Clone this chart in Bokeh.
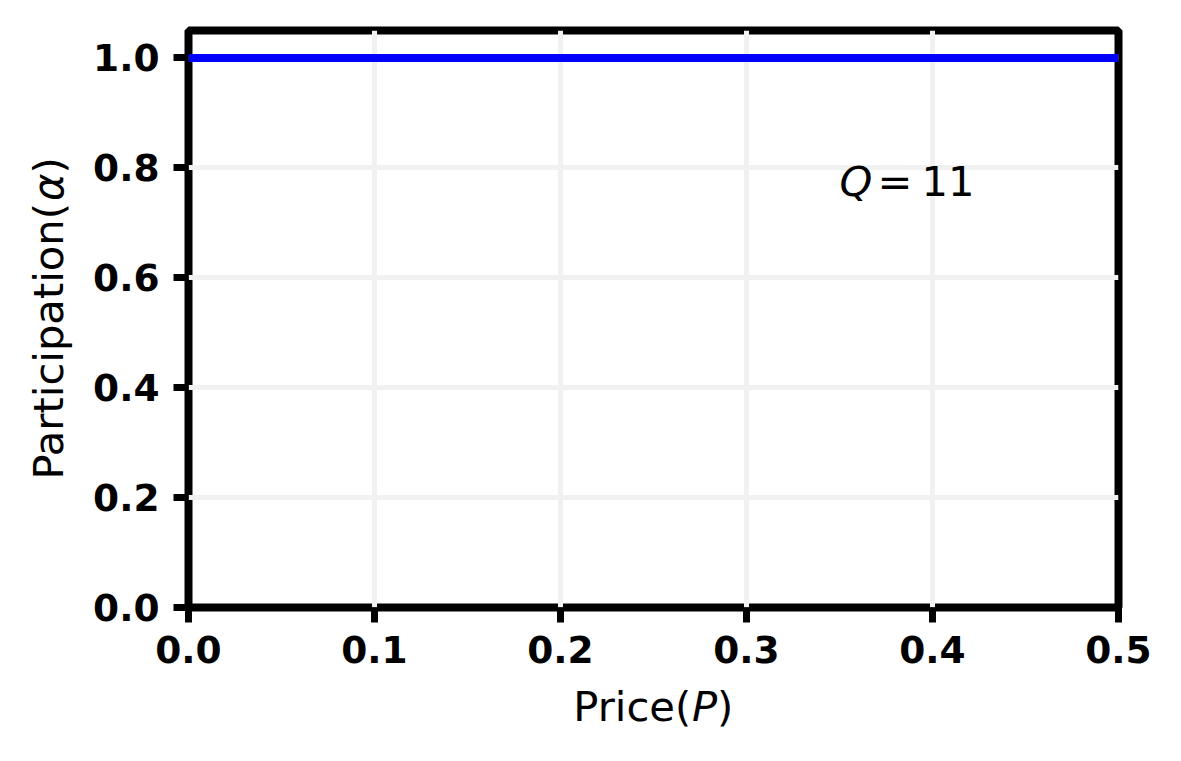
from bokeh.plotting import figure
from bokeh.models import Range1d, FixedTicker, PrintfTickFormatter, Label
from bokeh.layouts import column, row
from bokeh.embed import file_html
from bokeh.resources import INLINE
import math

# ---- data ----
price = [0.0, 0.1, 0.2, 0.3, 0.4, 0.5]
participation = [1.0, 1.0, 1.0, 1.0, 1.0, 1.0]
x_ticks = [0.0, 0.1, 0.2, 0.3, 0.4, 0.5]
y_ticks = [0.0, 0.2, 0.4, 0.6, 0.8, 1.0]
q_value = "11"

FONT = "DejaVu Sans"
TICK_SIZE = "37.5px"
LABEL_SIZE = "41.7px"

LEFT_W = 80
MAIN_W = 1095
MAIN_H = 677
BOTTOM_H = 76
BTOP, BBOT = 30, 70
FRAME_H = MAIN_H - BTOP - BBOT
BASE_FIX = 14  # baseline correction for Label text

# ---- main plot ----
p = figure(width=MAIN_W, height=MAIN_H, output_backend="svg", toolbar_location=None,
           x_range=Range1d(0, 0.5), y_range=Range1d(0, 1.05),
           min_border_left=108, min_border_right=57, min_border_top=BTOP, min_border_bottom=BBOT)

p.background_fill_color = "white"
p.border_fill_color = "white"
p.outline_line_color = "black"
p.outline_line_width = 8

for ax, ticks in ((p.xaxis[0], x_ticks), (p.yaxis[0], y_ticks)):
    ax.ticker = FixedTicker(ticks=ticks)
    ax.formatter = PrintfTickFormatter(format="%.1f")
    ax.axis_line_color = None
    ax.major_tick_out = 15
    ax.major_tick_in = 0
    ax.major_tick_line_width = 7
    ax.major_tick_line_color = "black"
    ax.minor_tick_line_color = None
    ax.major_label_text_font = FONT
    ax.major_label_text_font_style = "bold"
    ax.major_label_text_font_size = TICK_SIZE
    ax.major_label_text_color = "black"

p.xaxis[0].major_label_standoff = 13
p.yaxis[0].major_label_standoff = 14

for g in (p.xgrid[0], p.ygrid[0]):
    g.grid_line_color = "#f1f1f1"
    g.grid_line_width = 5

p.line(price, participation, line_color="#0000ff", line_width=8)


def lab(fig, text, x, y, xo=0, yo=0, style="normal", angle=0.0):
    fig.add_layout(Label(x=x, y=y, x_offset=xo, y_offset=yo, text=text, angle=angle,
                         text_font=FONT, text_font_size=LABEL_SIZE, text_font_style=style,
                         text_color="black", text_align="left", text_baseline="alphabetic"))


# annotation Q = 11
lab(p, "Q", 0.35, 0.75, 0, BASE_FIX, "italic")
lab(p, "=", 0.35, 0.75, 38, BASE_FIX)
lab(p, q_value, 0.35, 0.75, 82, BASE_FIX)


def blank(w, h, top=0, bottom=0):
    f = figure(width=w, height=h, output_backend="svg", toolbar_location=None,
               x_range=Range1d(0, w), y_range=Range1d(0, h - top - bottom),
               x_axis_type=None, y_axis_type=None,
               min_border=0, min_border_left=0, min_border_right=0,
               min_border_top=top, min_border_bottom=bottom)
    f.outline_line_color = None
    f.background_fill_color = "white"
    f.border_fill_color = "white"
    f.xgrid.visible = False
    f.ygrid.visible = False
    return f


# y axis label panel: Participation(alpha)  (y measured up from frame bottom)
left = blank(LEFT_W, MAIN_H, BTOP, BBOT)
lab(left, "Participation(", 62 - BASE_FIX, 128, angle=math.pi / 2)
lab(left, "\u03b1", 62 - BASE_FIX, 406.5, style="italic", angle=math.pi / 2)
lab(left, ")", 62 - BASE_FIX, 434, angle=math.pi / 2)

# x axis label panel: Price(P)
bottom = blank(LEFT_W + MAIN_W, BOTTOM_H)
lab(bottom, "Price(", 572.75, 33 + BASE_FIX)
lab(bottom, "P", 691.4, 33 + BASE_FIX, style="italic")
lab(bottom, ")", 716.5, 33 + BASE_FIX)

layout = column(row(left, p, spacing=0), bottom, spacing=0)

open("out.html", "w").write(file_html(layout, INLINE))
